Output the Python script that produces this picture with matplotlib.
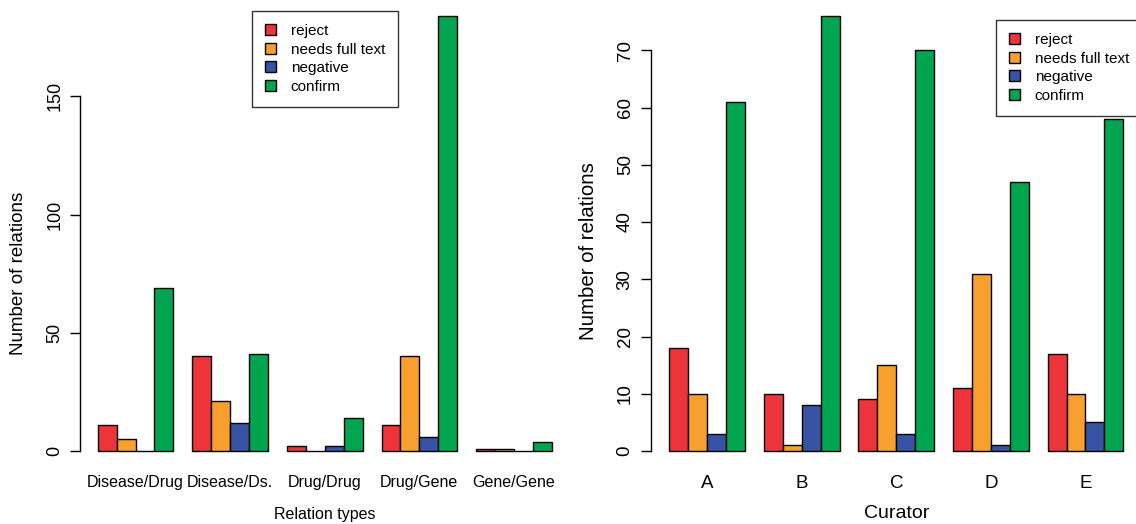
import numpy as np
import matplotlib.pyplot as plt
from matplotlib.patches import Patch

plt.rcParams['font.family'] = ['Liberation Sans', 'DejaVu Sans']

categories = ['reject', 'needs full text', 'negative', 'confirm']
colors = ['#ED343B', '#F7A02D', '#3953A4', '#00A54F']

# counts per relation type (rows follow categories)
relation_types = ['Disease/Drug', 'Disease/Ds.', 'Drug/Drug', 'Drug/Gene', 'Gene/Gene']
reject_rel = [11, 40, 2, 11, 1]
fulltext_rel = [5, 21, 0, 40, 1]
negative_rel = [0, 12, 2, 6, 0]
confirm_rel = [69, 41, 14, 184, 4]

# counts per curator
curators = ['A', 'B', 'C', 'D', 'E']
reject_cur = [18, 10, 9, 11, 17]
fulltext_cur = [10, 1, 15, 31, 10]
negative_cur = [3, 8, 3, 1, 5]
confirm_cur = [61, 76, 70, 47, 58]

W, H = 1136, 524
fig = plt.figure(figsize=(W / 100, H / 100), dpi=100)


def px_axes(x0, x1, ytop, ybot):
    return fig.add_axes([x0 / W, 1 - ybot / H, (x1 - x0) / W, (ybot - ytop) / H])


def grouped_bars(ax, names, series, yticks, ytick_size, xtick_size, ypad):
    # R-style beside barplot: groups of 4 unit-width bars, one unit gap
    n = len(names)
    for i, (vals, col) in enumerate(zip(series, colors)):
        lefts = 1 + 5 * np.arange(n) + i
        ax.bar(lefts, vals, width=1.0, align='edge', color=col,
               edgecolor='black', linewidth=1.0)
    top = max(max(s) for s in series)
    ax.set_xlim(0.04, 25.96)
    ax.set_ylim(-0.04 * top, 1.04 * top)
    for side in ['top', 'right', 'bottom']:
        ax.spines[side].set_visible(False)
    ax.spines['left'].set_bounds(yticks[0], yticks[-1])
    ax.spines['left'].set_linewidth(1.0)
    ax.set_yticks(yticks)
    ax.set_yticklabels([str(t) for t in yticks], rotation=90, va='center',
                       fontsize=ytick_size)
    ax.tick_params(axis='y', length=7, width=1.0, pad=ypad)
    ax.set_xticks(1 + 5 * np.arange(n) + 2)
    ax.set_xticklabels(names, fontsize=xtick_size)
    ax.tick_params(axis='x', length=0, pad=5)


ax1 = px_axes(79.5, 570, -1.4, 468.4)
grouped_bars(ax1, relation_types, [reject_rel, fulltext_rel, negative_rel, confirm_rel],
             [0, 50, 100, 150], 13, 11.5, 4.5)
ax1.set_xlabel('Relation types', fontsize=11.5, labelpad=12)

ax2 = px_axes(651.1, 1141.5, -1.4, 468.4)
grouped_bars(ax2, curators, [reject_cur, fulltext_cur, negative_cur, confirm_cur],
             [0, 10, 20, 30, 40, 50, 60, 70], 13.5, 13.5, 5.5)
ax2.set_xlabel('Curator', fontsize=14, labelpad=9)

# y axis titles
fig.text(19 / W, 1 - 273 / H, 'Number of relations', rotation=90,
         ha='center', va='center', fontsize=13.5)
fig.text(588 / W, 1 - 251 / H, 'Number of relations', rotation=90,
         ha='center', va='center', fontsize=14.7)

handles = [Patch(facecolor=c, edgecolor='black', linewidth=1.0) for c in colors]
for x0, y0 in [(251.7, 11), (995.7, 20)]:
    leg = fig.legend(handles, categories, loc='upper left',
                     bbox_to_anchor=(x0 / W, 1 - y0 / H), bbox_transform=fig.transFigure,
                     fontsize=11, frameon=True, fancybox=False, borderaxespad=0,
                     handlelength=0.75, handleheight=0.75, handletextpad=0.95,
                     labelspacing=0.3, borderpad=0.85)
    leg.get_frame().set_edgecolor('black')
    leg.get_frame().set_linewidth(1.0)

fig.savefig('out.png', dpi=100, facecolor='white')
